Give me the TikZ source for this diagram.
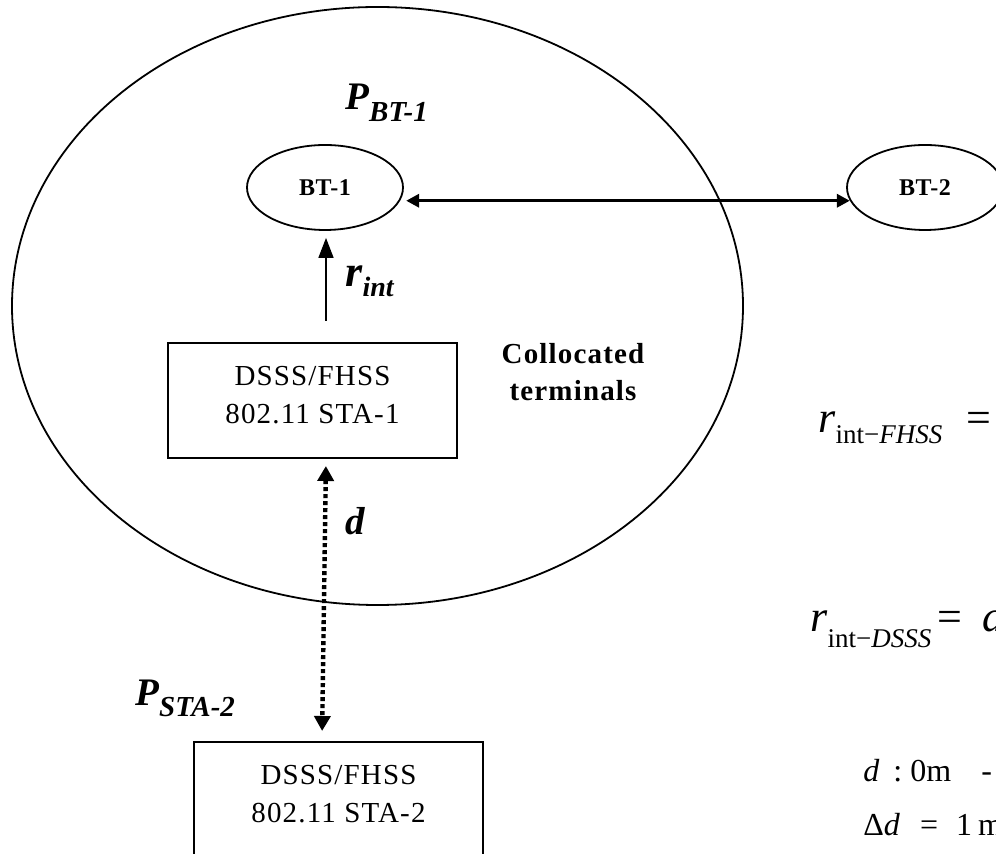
\documentclass[tikz,border=0pt]{standalone}
\usepackage{fontspec}
\setmainfont{Liberation Serif}
\usetikzlibrary{arrows.meta,shapes.geometric}

\begin{document}
\begin{tikzpicture}[x=0.5pt,y=-0.5pt,
  btnode/.style={ellipse,draw,line width=0.9pt,minimum width=78pt,minimum height=42.5pt,inner sep=0pt,font=\bfseries\fontsize{12}{14}\selectfont\addfontfeatures{LetterSpace=3}},
  stabox/.style={rectangle,draw,line width=1pt,minimum width=144.5pt,minimum height=57.5pt,inner sep=0pt,align=center,font=\fontsize{14.5}{19}\selectfont\addfontfeatures{LetterSpace=4}},
  biglabel/.style={anchor=base west,inner sep=0pt,font=\bfseries\itshape},
  mathlabel/.style={anchor=base west,inner sep=0pt}]
\useasboundingbox (0,0) rectangle (996,854);
\clip (0,0) rectangle (996,854);
% coverage area of BT-1
\draw[line width=0.9pt] (377.5,306) ellipse [x radius=365.5,y radius=299];
\node[biglabel] (pbt) at (345,110) {{\fontsize{19.5}{20}\selectfont P}\raisebox{-6pt}{\fontsize{14.5}{15}\selectfont BT-1}};
\node[btnode] (bt1) at (325,187.5) {BT-1\hspace{12pt}};
\node[btnode] (bt2) at (925,187.5) {BT-2\hspace{12pt}};
\draw[line width=1.6pt,{Triangle[length=6.5pt,width=6.5pt]}-{Triangle[length=6.5pt,width=6.5pt]},shorten <=3pt] (bt1.-10) -- (bt2.190);
% station 1 and its interference
\node[stabox] (sta1) at (312.5,400.5) {DSSS/FHSS\\802.11 STA-1\rule[-6pt]{0pt}{0pt}};
\coordinate (rtail) at (326,321);
\draw[line width=0.8pt,-{Triangle[length=10pt,width=7.5pt]},shorten >=3.5pt] (rtail) -- (rtail |- bt1.south);
\node[biglabel] (rint) at (345,287) {{\fontsize{22}{22}\selectfont r}\raisebox{-5pt}{\fontsize{14}{14}\selectfont int}};
\node[align=center,inner sep=0pt,font=\bfseries\fontsize{14.5}{18.5}\selectfont\addfontfeatures{LetterSpace=4}] (coll) at (573,372) {Collocated\\terminals};
% station 2
\node[stabox] (sta2) at (338.5,799.5) {DSSS/FHSS\\802.11 STA-2\rule[-6pt]{0pt}{0pt}};
\draw[line width=2.2pt,dash pattern=on 2pt off 1.5pt,{Triangle[length=7.5pt,width=8pt]}-{Triangle[length=7.5pt,width=8pt]},shorten <=3.5pt,shorten >=5pt] ([xshift=6.75pt]sta1.south) -- ([xshift=-8.25pt]sta2.north);
\node[biglabel] (dlab) at (345,535) {\fontsize{19.5}{20}\selectfont d};
\node[biglabel] (psta) at (135,706) {{\fontsize{19.5}{20}\selectfont P}\raisebox{-5.5pt}{\fontsize{14.5}{15}\selectfont STA-2}};
% formulas
\node[mathlabel] (fhss) at (818,433) {{\fontsize{22}{22}\selectfont\itshape r}\raisebox{-5.5pt}{\fontsize{13.5}{14}\selectfont int−\textit{FHSS}}\hspace{12pt}{\fontsize{22}{22}\selectfont =}};
\node[mathlabel] (dsss) at (810,632) {{\fontsize{22}{22}\selectfont\itshape r}\raisebox{-8pt}{\fontsize{13.5}{14}\selectfont int−\textit{DSSS}}\hspace{3pt}{\fontsize{22}{22}\selectfont =\hspace{10pt}\itshape d}};
\node[mathlabel] (drange) at (863,782) {\fontsize{16}{16}\selectfont\textit{d}\hspace{7pt}:\hspace{4pt}0m\hspace{15pt}-};
\node[mathlabel] (dstep) at (863,835) {\fontsize{16}{16}\selectfont Δ\textit{d}\hspace{10pt}=\hspace{9pt}1\hspace{3pt}m};
\end{tikzpicture}
\end{document}
